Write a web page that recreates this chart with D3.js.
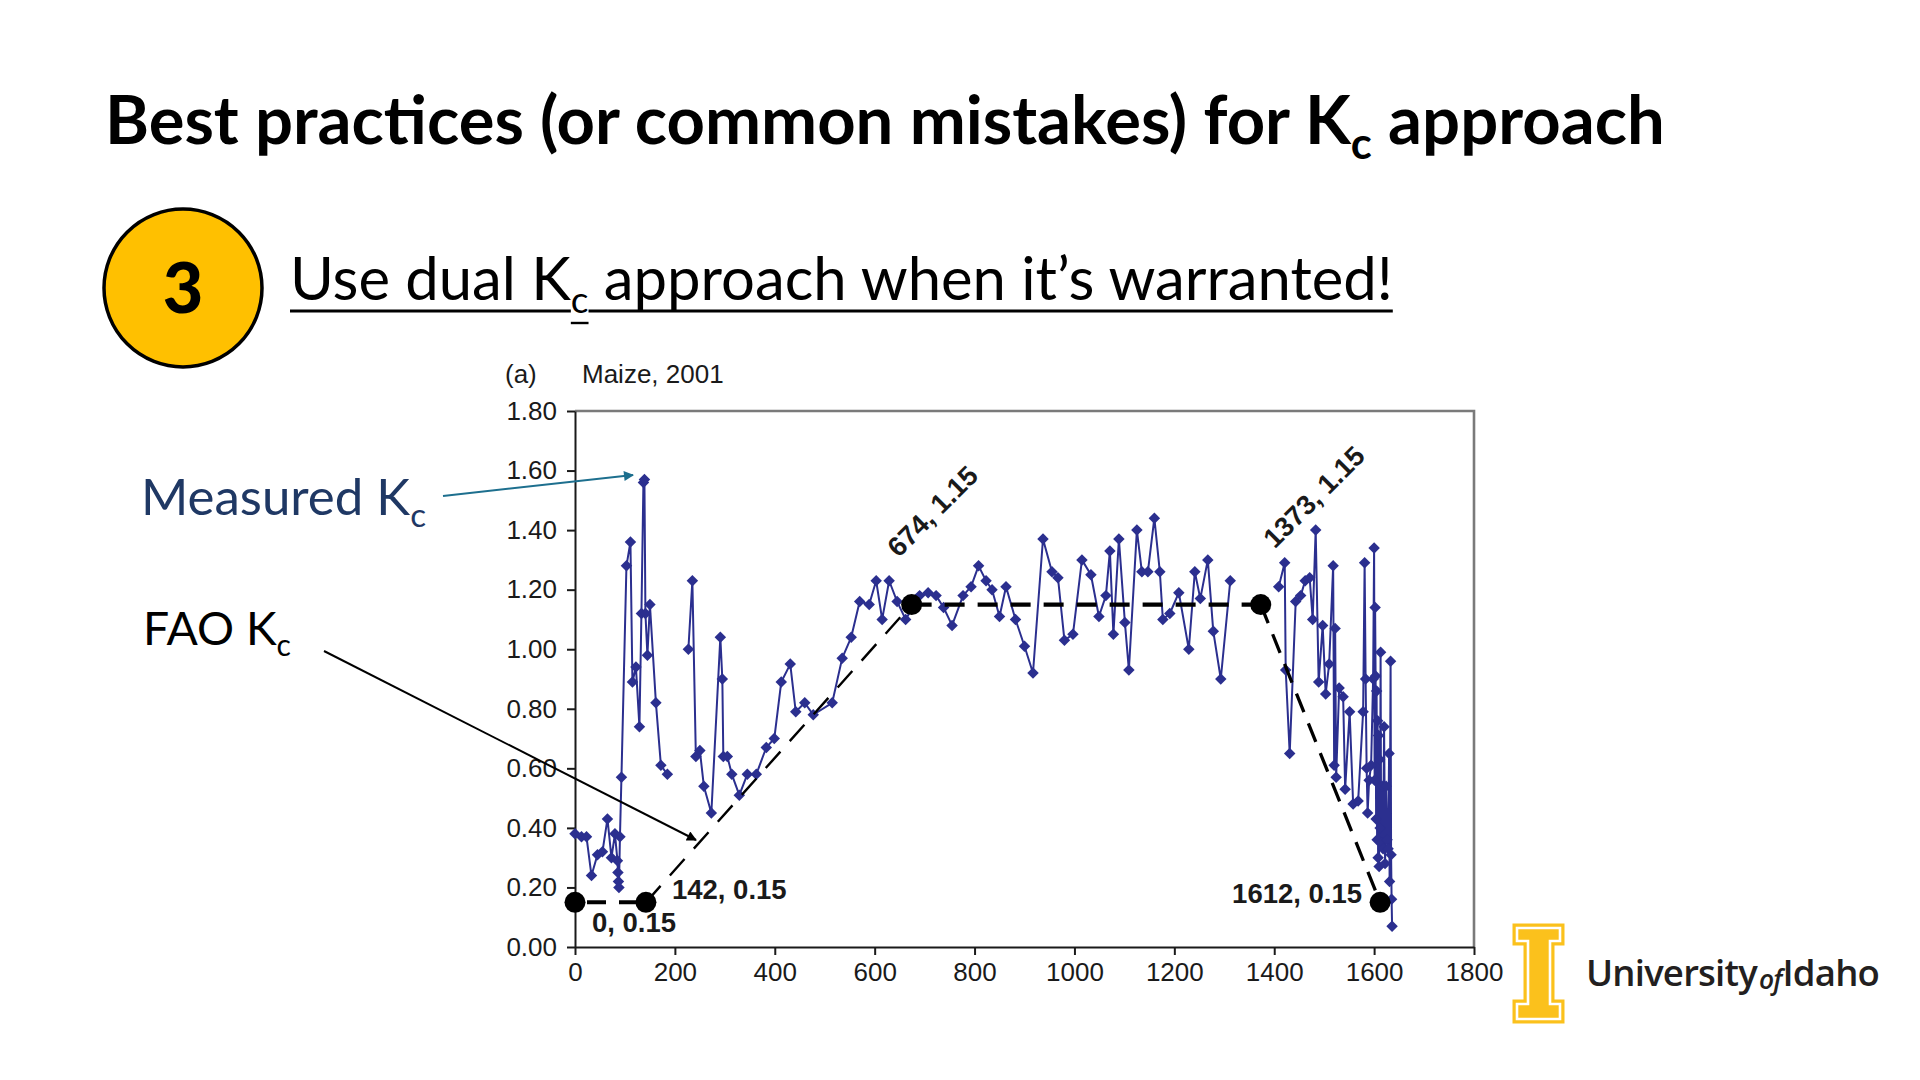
<!DOCTYPE html>
<html><head><meta charset="utf-8">
<script src="https://cdn.jsdelivr.net/npm/d3@7"></script>
<style>html,body{margin:0;padding:0;background:#fff;overflow:hidden}svg{display:block}</style>
</head><body>
<script>
// ---------- DATA ----------
const gdd = [0,13,23,33,45,55,65,73,80,85,86,87,88,90,93,103,111,115,122,129,133,137,139,141,145,150,162,172,185,
  205,
  227,235,242,250,258,273,291,295,297,305,314,329,345,363,383,399,413,431,442,460,477,515,535,553,570,589,603,615,629,645,662,
  690,707,723,738,755,777,793,808,823,835,850,863,882,900,917,937,955,967,980,997,1015,1033,1049,1063,1071,1078,1089,1101,1109,
  1125,1135,1147,1160,1171,1177,1191,1209,1229,1241,1252,1267,1278,1293,1312,
  1360,
  1409,1421,1423,1431,1443,1453,1462,1471,1477,1483,1489,1497,1503,1510,1518,1520,1522,1524,1530,1538,1542,1551,1558,1568,
  1578,1581,1583,1585,1587,1590,1594,1598,1600,1601,1602,1603,1604,1605,1606,1607,1608,1609,1610,1611,1612,1613,1614,1616,
  1618,1620,1622,1624,1626,1628,1630,1631,1633,1634,1635,1636];
const kcMeasured = [0.38,0.37,0.37,0.24,0.31,0.32,0.43,0.30,0.38,0.29,0.25,0.22,0.20,0.37,0.57,1.28,1.36,0.89,0.94,0.74,1.12,1.56,1.57,1.12,0.98,1.15,0.82,0.61,0.58,
  null,
  1.00,1.23,0.64,0.66,0.54,0.45,1.04,0.90,0.64,0.64,0.58,0.51,0.58,0.58,0.67,0.70,0.89,0.95,0.79,0.82,0.78,0.82,0.97,1.04,1.16,1.15,1.23,1.10,1.23,1.16,1.10,
  1.18,1.19,1.18,1.14,1.08,1.18,1.21,1.28,1.23,1.20,1.11,1.21,1.10,1.01,0.92,1.37,1.26,1.24,1.03,1.05,1.30,1.25,1.11,1.18,1.33,1.05,1.37,1.09,0.93,
  1.40,1.26,1.26,1.44,1.26,1.10,1.12,1.19,1.00,1.26,1.17,1.30,1.06,0.90,1.23,
  null,
  1.21,1.29,0.93,0.65,1.16,1.18,1.23,1.24,1.10,1.40,0.89,1.08,0.85,0.95,1.28,0.61,1.07,0.57,0.87,0.84,0.53,0.79,0.48,0.49,
  0.79,1.29,0.90,0.60,0.45,0.56,0.61,0.90,1.34,0.56,1.14,0.91,0.43,0.86,0.36,0.76,0.30,0.71,0.27,0.63,0.40,0.99,0.35,0.54,
  0.33,0.74,0.28,0.54,0.36,0.33,0.65,0.22,0.96,0.31,0.16,0.07];
const faoGdd = [0,142,674,1373,1612];
const faoKc = [0.15,0.15,1.15,1.15,0.15];
const faoLabels = ["0, 0.15","142, 0.15","674, 1.15","1373, 1.15","1612, 0.15"];
const xTicks = [0,200,400,600,800,1000,1200,1400,1600,1800];
const yTicks = [0,0.2,0.4,0.6,0.8,1.0,1.2,1.4,1.6,1.8];

// ---------- DRAW ----------
const W=1920,H=1080;
const svg=d3.select("body").append("svg").attr("width",W).attr("height",H);
svg.append("rect").attr("width",W).attr("height",H).attr("fill","#fff");
const SLIDE="Lato,'Open Sans',Carlito,Calibri,sans-serif";
const ARIAL="'Liberation Sans',Arial,Helvetica,sans-serif";

function fit(sel,target){const w=sel.node().getComputedTextLength();const fs=parseFloat(sel.attr("font-size"));sel.attr("font-size",fs*target/w);}

const defs=svg.append("defs");
function arrowMarker(id,color){
  defs.append("marker").attr("id",id).attr("viewBox","0 0 10 10").attr("refX",9).attr("refY",5)
   .attr("markerWidth",6).attr("markerHeight",5).attr("markerUnits","strokeWidth").attr("orient","auto")
   .append("path").attr("d","M0,0L10,5L0,10z").attr("fill",color);
}
arrowMarker("arrTeal","#1d6f8e");
arrowMarker("arrBlack","#000");

// Title
const title=svg.append("text").attr("x",105).attr("y",144).attr("font-family",SLIDE).attr("font-weight",700).attr("font-size",66).attr("fill","#000");
title.append("tspan").text("Best practices (or common mistakes) for K");
title.append("tspan").style("font-size","0.65em").attr("dy","0.34em").text("c");
title.append("tspan").attr("dy","-0.22em").text(" approach");
fit(title,1560);

// Circle 3
svg.append("circle").attr("cx",183).attr("cy",288).attr("r",79).attr("fill","#FFC000").attr("stroke","#000").attr("stroke-width",3.5);
svg.append("text").attr("x",183).attr("y",313).attr("text-anchor","middle").attr("font-family",SLIDE).attr("font-weight",900).attr("font-size",70).text("3");

// Subtitle
const sub=svg.append("text").attr("x",290).attr("y",300).attr("font-family",SLIDE).attr("font-weight",400).attr("font-size",54).attr("fill","#000");
sub.append("tspan").text("Use dual K");
sub.append("tspan").style("font-size","0.62em").attr("dy","0.36em").text("c");
sub.append("tspan").attr("dy","-0.22em").text(" approach when it\u2019s warranted!");
fit(sub,1103);
{
  const n=sub.node();
  const a=n.getSubStringLength(0,10), b=n.getSubStringLength(0,11), total=n.getComputedTextLength();
  svg.append("line").attr("x1",290).attr("x2",290+a).attr("y1",311).attr("y2",311).attr("stroke","#000").attr("stroke-width",3.2);
  svg.append("line").attr("x1",290+a).attr("x2",290+b).attr("y1",323).attr("y2",323).attr("stroke","#000").attr("stroke-width",2.4);
  svg.append("line").attr("x1",290+b).attr("x2",290+total).attr("y1",311).attr("y2",311).attr("stroke","#000").attr("stroke-width",3.2);
}

// Side labels
const meas=svg.append("text").attr("x",141).attr("y",515).attr("font-family",SLIDE).attr("font-size",46).attr("fill","#1F3864");
meas.append("tspan").text("Measured K");
meas.append("tspan").style("font-size","0.65em").attr("dy","0.36em").text("c");
fit(meas,285);
const fao=svg.append("text").attr("x",143).attr("y",645).attr("font-family",SLIDE).attr("font-size",46).attr("fill","#000");
fao.append("tspan").text("FAO K");
fao.append("tspan").style("font-size","0.65em").attr("dy","0.36em").text("c");
fit(fao,148);

// Chart scales
const x=d3.scaleLinear().domain([0,1800]).range([575,1474]);
const y=d3.scaleLinear().domain([0,1.8]).range([947,411]);

svg.append("text").attr("x",505).attr("y",383).attr("font-family",ARIAL).attr("font-size",26).attr("fill","#1a1a1a").text("(a)");
svg.append("text").attr("x",582).attr("y",383).attr("font-family",ARIAL).attr("font-size",26).attr("fill","#1a1a1a").text("Maize, 2001");

// frame (top & right)
svg.append("path").attr("d",`M${x(0)},${y(1.8)}H${x(1800)}V${y(0)}`).attr("fill","none").attr("stroke","#7a7a7a").attr("stroke-width",2.6);

const gx=svg.append("g").attr("transform",`translate(0,${y(0)})`)
  .call(d3.axisBottom(x).tickValues(xTicks).tickSize(8).tickSizeOuter(0).tickPadding(8).tickFormat(d3.format("d")));
const gy=svg.append("g").attr("transform",`translate(${x(0)},0)`)
  .call(d3.axisLeft(y).tickValues(yTicks).tickSize(8).tickSizeOuter(0).tickPadding(10).tickFormat(d3.format(".2f")));
[gx,gy].forEach(g=>{
  g.selectAll("text").attr("font-family",ARIAL).attr("font-size",26).attr("fill","#1a1a1a");
  g.selectAll("line,path").attr("stroke","#1a1a1a").attr("stroke-width",2);
});

// Measured series
const meas_data=gdd.map((g,i)=>({g,k:kcMeasured[i]}));
const line=d3.line().defined(d=>d.k!=null).x(d=>x(d.g)).y(d=>y(d.k));
svg.append("path").datum(meas_data).attr("d",line).attr("fill","none").attr("stroke","#2B2F8F").attr("stroke-width",2).attr("stroke-linejoin","round");
const sq=d3.symbol().type(d3.symbolSquare).size(66);
svg.append("g").selectAll("path").data(meas_data.filter(d=>d.k!=null)).join("path")
  .attr("d",sq).attr("transform",d=>`translate(${x(d.g)},${y(d.k)}) rotate(45)`).attr("fill","#2B2F8F");

// FAO line
const segStyle=[{w:4,dash:"19,13"},{w:2.4,dash:"22,14"},{w:4.2,dash:"20,13"},{w:3.3,dash:"20,12"}];
for(let i=0;i<faoGdd.length-1;i++){
  svg.append("line").attr("x1",x(faoGdd[i])).attr("y1",y(faoKc[i])).attr("x2",x(faoGdd[i+1])).attr("y2",y(faoKc[i+1]))
    .attr("stroke","#000").attr("stroke-width",segStyle[i].w).attr("stroke-dasharray",segStyle[i].dash)
    .attr("stroke-dashoffset",i===0?-12:0);
}
svg.append("g").selectAll("circle").data(faoGdd).join("circle").attr("cx",d=>x(d)).attr("cy",(d,i)=>y(faoKc[i])).attr("r",10.5).attr("fill","#000");

const labOff=[{dx:17,dy:30,rot:0,anchor:"start"},{dx:26,dy:-3,rot:0,anchor:"start"},{dx:-13,dy:-46,rot:-45,anchor:"start"},{dx:14,dy:-55,rot:-45,anchor:"start"},{dx:-18,dy:1,rot:0,anchor:"end"}];
svg.append("g").selectAll("text").data(faoLabels).join("text")
  .attr("transform",(d,i)=>`translate(${x(faoGdd[i])+labOff[i].dx},${y(faoKc[i])+labOff[i].dy}) rotate(${labOff[i].rot})`)
  .attr("text-anchor",(d,i)=>labOff[i].anchor)
  .attr("font-family",ARIAL).attr("font-weight",700).attr("font-size",27.5).attr("fill","#1a1a1a").text(d=>d);

// annotation arrows
svg.append("line").attr("x1",443).attr("y1",496).attr("x2",633).attr("y2",475).attr("stroke","#1d6f8e").attr("stroke-width",2).attr("marker-end","url(#arrTeal)");
svg.append("line").attr("x1",324).attr("y1",651).attr("x2",696).attr("y2",840).attr("stroke","#000").attr("stroke-width",2).attr("marker-end","url(#arrBlack)");

// Logo
const P=[[1517,928],[1560,928],[1560,941],[1550,941],[1550,1004],[1560,1004],[1560,1019],[1517,1019],[1517,1004],[1528,1004],[1528,941],[1517,941]];
const pd="M"+P.map(p=>p.join(",")).join("L")+"Z";
svg.append("path").attr("d",pd).attr("fill","#FBC11C").attr("stroke","#FBC11C").attr("stroke-width",9).attr("stroke-linejoin","miter");
svg.append("path").attr("d",pd).attr("fill","none").attr("stroke","#fff").attr("stroke-width",2.6).attr("stroke-linejoin","miter");
const uni=svg.append("text").attr("x",1586).attr("y",986).attr("font-family","'Open Sans',Lato,sans-serif").attr("font-weight",600).attr("font-size",36).attr("fill","#231F20").attr("letter-spacing",-0.8);
uni.append("tspan").text("University");
uni.append("tspan").style("font-size","0.72em").style("font-style","italic").attr("dy","0.12em").attr("dx","2").text("of");
uni.append("tspan").attr("dy","-0.09em").attr("dx","1").text("Idaho");
fit(uni,290);
</script>
</body></html>
